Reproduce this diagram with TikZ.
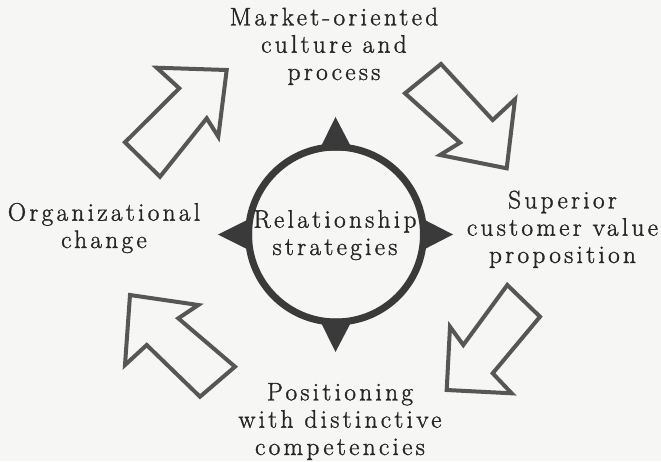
\documentclass[tikz,border=0pt]{standalone}
\usepackage{fontspec}
\setmainfont{Latin Modern Roman}[LetterSpace=13,FakeBold=1.3]
\begin{document}
\definecolor{paper}{HTML}{F6F6F4}
\definecolor{ink}{HTML}{262626}
\definecolor{arrowline}{HTML}{565656}
\definecolor{ringline}{HTML}{3A3A3A}
\begin{tikzpicture}[x=0.75pt,y=-0.75pt,
  label text/.style={font=\fontsize{19}{20.5}\selectfont, text=ink,
    align=center, inner sep=0pt, anchor=base},
  block arrow/.style={draw=arrowline, line width=3pt, line join=miter, fill=none},
  ring/.style={draw=ringline, line width=5.25pt},
  point/.style={fill=ringline, draw=none}
]
% canvas
\fill[paper] (0,0) rectangle (661,461);
\useasboundingbox (0,0) rectangle (661,461);

% central ring with four compass points
\coordinate (c) at (336,234.5);
\fill[point] (336-17,234.5-84) -- (335.5,117) -- (336+17,234.5-84) -- cycle;
\fill[point] (336-17,234.5+84) -- (335.5,352) -- (336+17,234.5+84) -- cycle;
\fill[point] (336-84,234.5-17) -- (218,234.5) -- (336-84,234.5+17) -- cycle;
\fill[point] (336+84,234.5-17) -- (453,234.5) -- (336+84,234.5+17) -- cycle;
\draw[ring] (c) circle [radius=87.5];

% labels (anchored on the baseline of their last line)
\node[label text] (core) at (335,255) {Relationship\\strategies};
\node[label text] (market) at (334,80) {Market-oriented\\culture and\\process};
\node[label text] (value) at (562.5,263) {Superior\\customer value\\proposition};
\node[label text] (position) at (340,455) {Positioning\\with distinctive\\competencies};
\node[label text] (change) at (104,248) {Organizational\\change};

% outlined block arrows running clockwise between the labels
\draw[block arrow] (226.7,70) -- (156.7,67.7) -- (179.3,88.3) -- (125,142.3)
  -- (160,176.7) -- (206.7,118.3) -- (218.3,136.7) -- cycle;
\draw[block arrow] (506.7,168.3) -- (440,155) -- (460,142.7) -- (405,93.3)
  -- (441,64) -- (492.7,120) -- (515,99.3) -- cycle;
\draw[block arrow] (446.7,390) -- (511.7,393.3) -- (492.7,373.3) -- (540,316.7)
  -- (507.3,285) -- (463.3,345) -- (450,326.7) -- cycle;
\draw[block arrow] (130,295) -- (198.3,305) -- (178.3,318.3) -- (235,366.7)
  -- (200,396.7) -- (146.7,345) -- (125,365) -- cycle;
\end{tikzpicture}
\end{document}
